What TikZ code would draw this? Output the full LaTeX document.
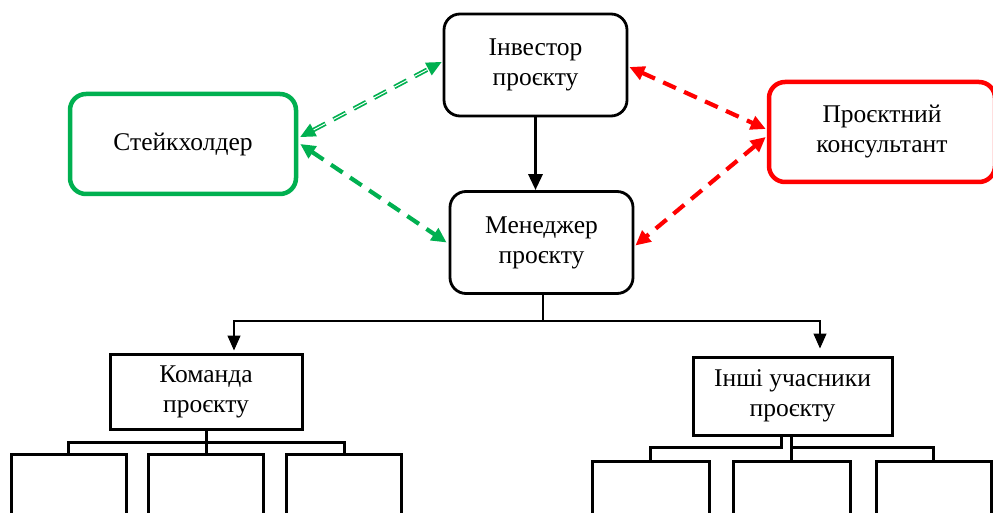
\documentclass[tikz,border=0pt]{standalone}
\usepackage{fontspec}
\setmainfont{Liberation Serif}
\usetikzlibrary{arrows.meta,calc}
\definecolor{stakegreen}{RGB}{0,176,80}
\definecolor{consred}{RGB}{255,0,0}

\begin{document}
\begin{tikzpicture}[x=1pt,y=-1pt,
  txt/.style={font=\fontsize{25.5}{30}\selectfont, align=center, inner sep=0pt},
  roundbox/.style={txt, draw, line width=2.8pt, rounded corners=16pt,
                   minimum width=183pt, minimum height=102pt},
  sidebox/.style={txt, draw, line width=4.5pt, rounded corners=16pt,
                  minimum width=226pt, minimum height=100pt},
  groupbox/.style={txt, draw, line width=3pt},
  memberbox/.style={draw, line width=3pt, minimum width=115pt, minimum height=90pt, inner sep=0pt},
  link/.style={line width=3pt},
  feed/.style={line width=1.3pt, -{Triangle[length=15pt,width=13pt]}},
  mainarrow/.style={line width=3.2pt, -{Triangle[length=16pt,width=14pt]}},
  twoway/.style={line width=4.2pt, dash pattern=on 14pt off 9pt,
                 {Triangle[length=15pt,width=14pt]}-{Triangle[length=15pt,width=14pt]}},
  twowaydouble/.style={twoway, line width=1.7pt, double distance=1pt, double=white}
]
\useasboundingbox (0,0) rectangle (993,513);
\fill[white] (0,0) rectangle (993,513);

% main boxes
\node[roundbox] (inv) at (535.5,65) {Інвестор\\проєкту};
\node[roundbox] (mgr) at (541.5,242.5) {Менеджер\\проєкту};
\node[sidebox, draw=stakegreen] (stake) at (183,144) {Стейкхолдер};
\node[sidebox, draw=consred] (cons) at (882,132) {Проєктний\\консультант};

% investor controls manager
\draw[mainarrow] (inv.south) -- (inv.south |- mgr.north);

% stakeholder links
\draw[twowaydouble, stakegreen] ($(stake.east)+(2,-7)$) -- ($(inv.west)+(-1,-3)$);
\draw[twoway, stakegreen] ($(stake.east)+(2,0)$) -- ($(mgr.west)+(-2,0)$);

% consultant links
\draw[twoway, consred] ($(inv.east)+(1,2)$) -- ($(cons.west)+(-1,-3)$);
\draw[twoway, consred] ($(cons.west)+(-1,5)$) -- ($(mgr.east)+(1,3)$);

% groups under the manager
\node[groupbox, minimum width=192pt, minimum height=75pt] (team) at (206,391.5) {Команда\\проєкту};
\node[groupbox, minimum width=199pt, minimum height=78pt] (other) at (792.5,396) {Інші учасники\\проєкту};

\coordinate (split) at (543,321);
\draw[line width=1.3pt] (mgr.south -| split) -- (split);
\draw[feed] (split) -| ($(team.north)+(28,-2)$);
\draw[feed] (split) -| ($(other.north)+(27.5,-7)$);

% team members
\node[memberbox, anchor=north] (t1) at (68.5,453) {};
\node[memberbox, anchor=north] (t2) at (206,453) {};
\node[memberbox, anchor=north] (t3) at (344,453) {};
\coordinate (tbus) at (206,442);
\draw[link] (team.south) -- (tbus);
\draw[link] (t1.north) |- (tbus) -| (t3.north);
\draw[link] (tbus) -- (t2.north);

% other participants
\node[memberbox, minimum width=117pt, anchor=north] (o1) at (650.5,460) {};
\node[memberbox, minimum width=117pt, anchor=north] (o2) at (791.5,460) {};
\node[memberbox, minimum width=115pt, anchor=north] (o3) at (933.5,460) {};
\coordinate (obusl) at (781,447);
\coordinate (obusr) at (792,447);
\draw[link] (other.south -| obusl) -- (obusl) -| (o1.north);
\draw[link] (other.south -| o2.north) -- (o2.north);
\draw[link] (obusr) -| (o3.north);
\end{tikzpicture}
\end{document}
